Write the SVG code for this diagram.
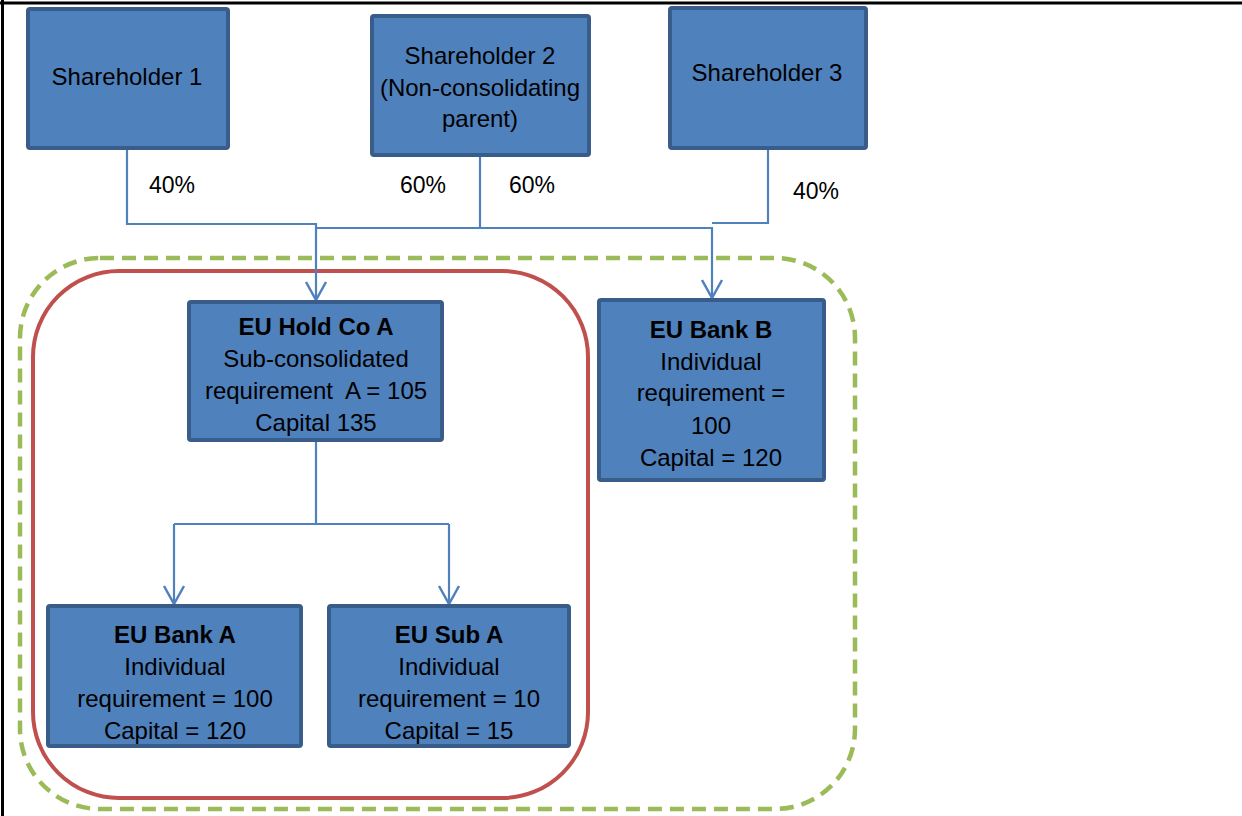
<svg xmlns="http://www.w3.org/2000/svg" width="1242" height="816" viewBox="0 0 1242 816">
<style>
.box{fill:#4F81BD;stroke:#385D8A;stroke-width:4}
.t{font-family:"Liberation Sans",Arial,sans-serif;font-size:24px;fill:#000;text-anchor:middle}
.b{font-weight:bold}
.lbl{font-family:"Liberation Sans",Arial,sans-serif;font-size:23px;fill:#000}
.conn{fill:none;stroke:#4F81BD;stroke-width:2.2}
</style>
<defs>
<marker id="arr" markerUnits="userSpaceOnUse" markerWidth="40" markerHeight="40" refX="0" refY="0" orient="auto" overflow="visible">
<path d="M-18,-10 L0,0 L-18,10" fill="none" stroke="#4F81BD" stroke-width="2.5"/>
</marker>
</defs>
<rect width="1242" height="816" fill="#fff"/>
<g id="frame">
<line x1="0" y1="3" x2="1242" y2="3" stroke="#000" stroke-width="3"/>
<line x1="2.5" y1="0" x2="2.5" y2="816" stroke="#000" stroke-width="3"/>
</g>
<g id="group-outer">
<rect x="20" y="258" width="835" height="551" rx="80" ry="80" fill="none" stroke="#9BBB59" stroke-width="4.5" stroke-dasharray="14 8"/>
</g>
<g id="group-inner">
<rect x="33" y="271" width="555" height="527" rx="86" ry="86" fill="none" stroke="#C0504D" stroke-width="4"/>
</g>
<g id="connectors">
<polyline class="conn" points="127,148 127,224 316,224 316,300" marker-end="url(#arr)"/>
<polyline class="conn" points="480,155 480,228 316,228"/>
<polyline class="conn" points="480,228 712,228 712,298" marker-end="url(#arr)"/>
<polyline class="conn" points="768,149 768,223 712,223"/>
<polyline class="conn" points="316,441 316,524"/>
<polyline class="conn" points="174,524 449,524"/>
<polyline class="conn" points="174,524 174,604" marker-end="url(#arr)"/>
<polyline class="conn" points="449,524 449,604" marker-end="url(#arr)"/>
<text class="lbl" x="149" y="193">40%</text>
<text class="lbl" x="400" y="193">60%</text>
<text class="lbl" x="509" y="193">60%</text>
<text class="lbl" x="793" y="199">40%</text>
</g>
<g id="shareholder1">
<rect class="box" x="28" y="9" width="200" height="139" rx="2"/>
<text class="t" x="127" y="85">Shareholder 1</text>
</g>
<g id="shareholder2">
<rect class="box" x="372" y="16" width="217" height="139" rx="2"/>
<text class="t" x="480" y="64">Shareholder 2</text>
<text class="t" x="480" y="96">(Non-consolidating</text>
<text class="t" x="480" y="127">parent)</text>
</g>
<g id="shareholder3">
<rect class="box" x="670" y="8" width="196" height="140" rx="2"/>
<text class="t" x="767" y="81">Shareholder 3</text>
</g>
<g id="euholdcoa">
<rect class="box" x="189" y="302" width="253" height="138" rx="2"/>
<text class="t b" x="316" y="335">EU Hold Co A</text>
<text class="t" x="316" y="367">Sub-consolidated</text>
<text class="t" x="316" y="399" xml:space="preserve">requirement  A = 105</text>
<text class="t" x="316" y="431">Capital 135</text>
</g>
<g id="eubankb">
<rect class="box" x="599" y="300" width="225" height="180" rx="2"/>
<text class="t b" x="711" y="338">EU Bank B</text>
<text class="t" x="711" y="370">Individual</text>
<text class="t" x="711" y="401">requirement =</text>
<text class="t" x="711" y="434">100</text>
<text class="t" x="711" y="466">Capital = 120</text>
</g>
<g id="eubanka">
<rect class="box" x="48" y="606" width="253" height="140" rx="2"/>
<text class="t b" x="175" y="643">EU Bank A</text>
<text class="t" x="175" y="675">Individual</text>
<text class="t" x="175" y="707">requirement = 100</text>
<text class="t" x="175" y="739">Capital = 120</text>
</g>
<g id="eusuba">
<rect class="box" x="329" y="606" width="240" height="140" rx="2"/>
<text class="t b" x="449" y="643">EU Sub A</text>
<text class="t" x="449" y="675">Individual</text>
<text class="t" x="449" y="707">requirement = 10</text>
<text class="t" x="449" y="739">Capital = 15</text>
</g>
</svg>
